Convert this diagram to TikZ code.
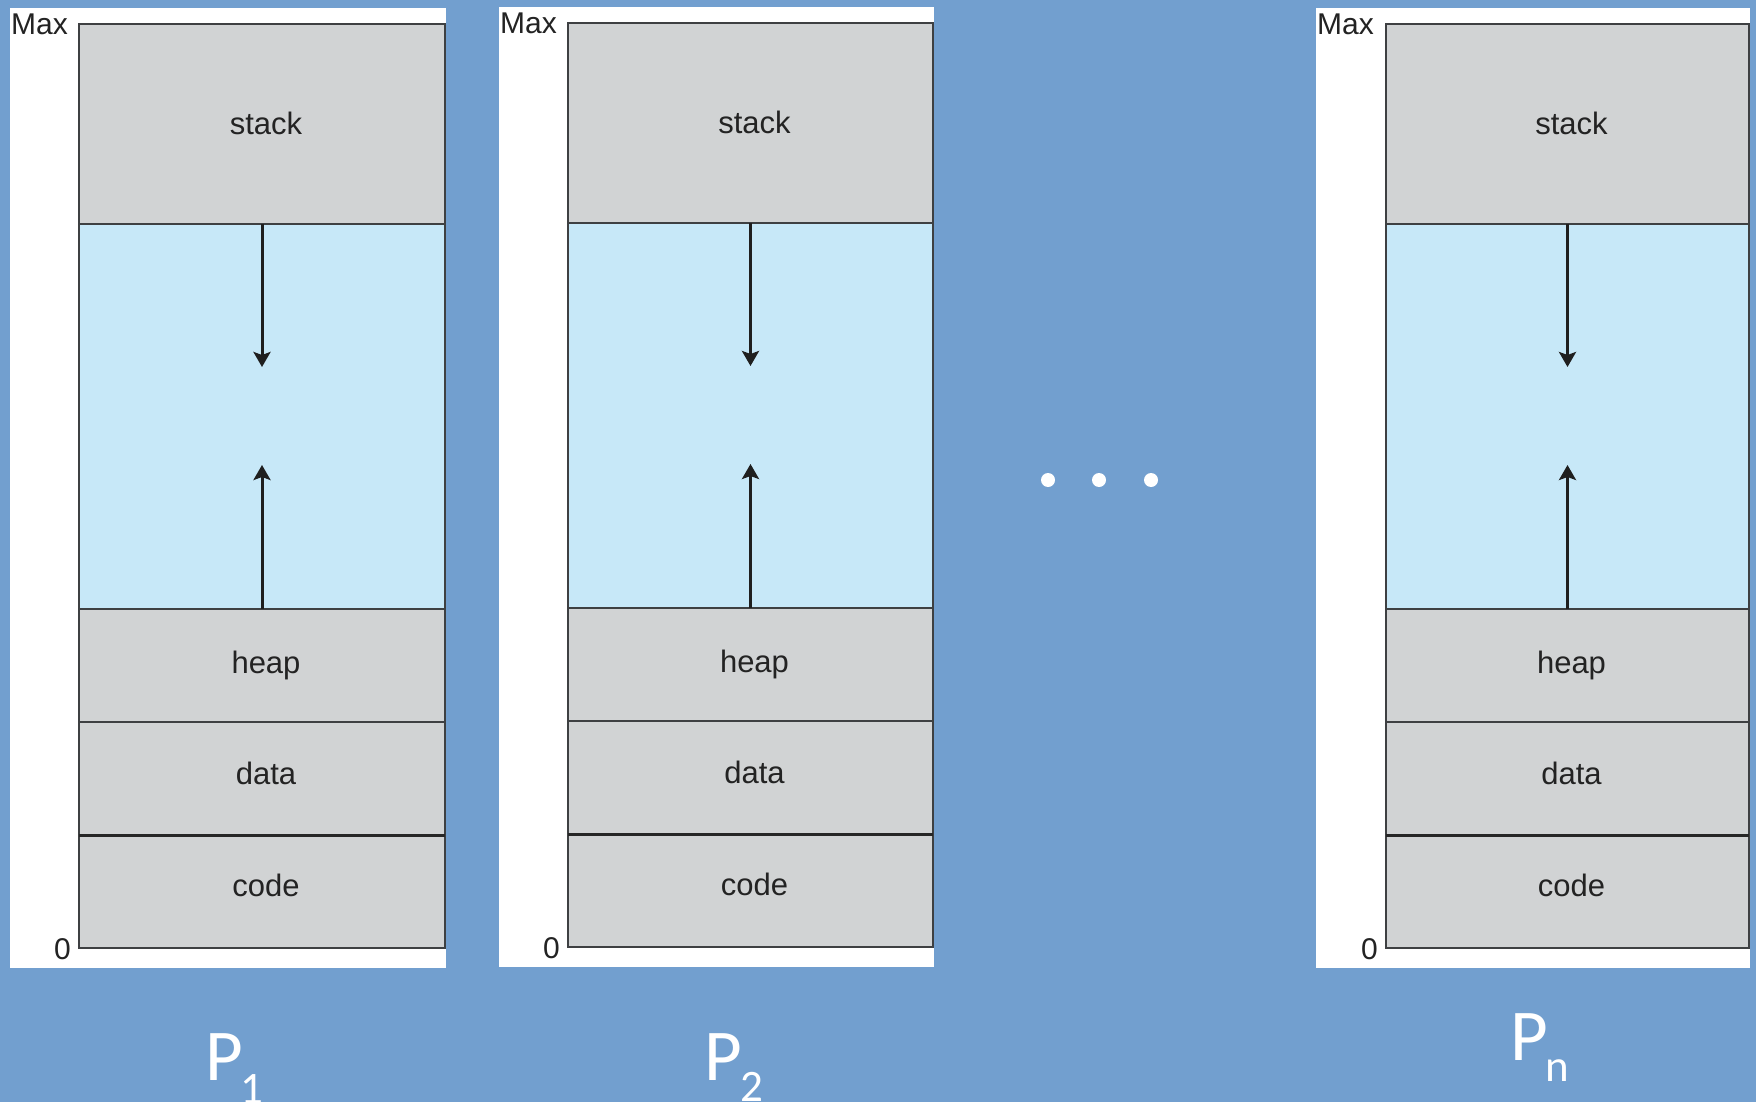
\documentclass[tikz,border=0pt]{standalone}
\usepackage{fontspec}
\setmainfont{Liberation Sans}
\newfontfamily\labelfont{Carlito}
\usetikzlibrary{arrows.meta}
\definecolor{slide}{RGB}{114,159,207}
\definecolor{segfill}{RGB}{209,211,212}
\definecolor{freefill}{RGB}{199,232,248}
\definecolor{rule}{RGB}{62,64,66}
\definecolor{ink}{RGB}{35,35,35}
\begin{document}
\begin{tikzpicture}[x=1pt,y=-1pt,
  seg/.style={draw=rule, line width=1.5pt, fill=segfill, anchor=north west,
    inner sep=0pt, outer sep=0pt, text=ink, text height=20pt, text depth=8pt,
    font=\fontsize{31}{34}\selectfont},
  free/.style={seg, fill=freefill},
  growarrow/.style={line width=3pt, draw=black!88,
    -{Stealth[width=17pt,length=15pt,inset=3pt]}},
  axislabel/.style={inner sep=0pt, text=ink, font=\fontsize{30}{33}\selectfont},
  plabel/.style={inner sep=0pt, text=white, font=\labelfont\fontsize{73}{80}\selectfont},
  psub/.style={inner sep=0pt, text=white, font=\labelfont\fontsize{45}{50}\selectfont},
  dot/.style={circle, fill=white, inner sep=0pt, minimum size=14pt}
]
% slide background
\fill[slide] (0,0) rectangle (1756,1102);
\useasboundingbox (0,0) rectangle (1756,1102);

% one memory image per process: sheet x, box x, box width, vertical offset
\foreach \n/\wx/\bx/\bw/\dy in {1/10/79/366/0, 2/499/568/365/-1, 3/1316/1386/363/0} {
  \fill[white] (\wx,{8+\dy}) rectangle ({\bx+\bw+1},{968+\dy});
  \node[seg,  minimum width=\bw pt, minimum height=200pt, text height=24.5pt, text depth=3.5pt]
    (stack\n) at (\bx,{24+\dy})  {\hspace*{8pt}stack};
  \node[free, minimum width=\bw pt, minimum height=385pt] (gap\n)   at (\bx,{224+\dy}) {};
  \node[seg,  minimum width=\bw pt, minimum height=113pt, text height=22pt, text depth=6pt]
    (heap\n)  at (\bx,{609+\dy}) {\hspace*{8pt}heap};
  \node[seg,  minimum width=\bw pt, minimum height=113pt] (data\n)  at (\bx,{722+\dy}) {\hspace*{8pt}data};
  \node[seg,  minimum width=\bw pt, minimum height=113pt, text height=19pt, text depth=9pt]
    (code\n)  at (\bx,{835+\dy}) {\hspace*{8pt}code};
  \draw[line width=3pt, draw=black!85] (code\n.north west) -- (code\n.north east);
  % address bounds
  \node[axislabel, anchor=base west] (max\n)  at ({\wx+1},{35+\dy})  {Max};
  \node[axislabel, anchor=base east] (zero\n) at ({\bx-8},{959+\dy}) {0};
  % growth directions of stack and heap
  \coordinate (sgrow\n) at ([yshift=-143pt]stack\n.south);
  \coordinate (hgrow\n) at ([yshift=144pt]heap\n.north);
  \draw[growarrow] (stack\n.south) -- (sgrow\n);
  \draw[growarrow] (heap\n.north) -- (hgrow\n);
}

% ellipsis between the processes
\node[dot] (dotA) at (1048,480) {};
\node[dot] (dotB) at (1099,480) {};
\node[dot] (dotC) at (1151,480) {};

% process names
\node[plabel, anchor=base west] (p1)  at (205,1080) {P};
\node[psub,   anchor=base west] (p1s) at (240,1103) {1};
\node[plabel, anchor=base west] (p2)  at (704,1080) {P};
\node[psub,   anchor=base west] (p2s) at (740,1101) {2};
\node[plabel, anchor=base west] (pn)  at (1510,1060) {P};
\node[psub,   anchor=base west] (pns) at (1545,1081) {n};
\end{tikzpicture}
\end{document}
